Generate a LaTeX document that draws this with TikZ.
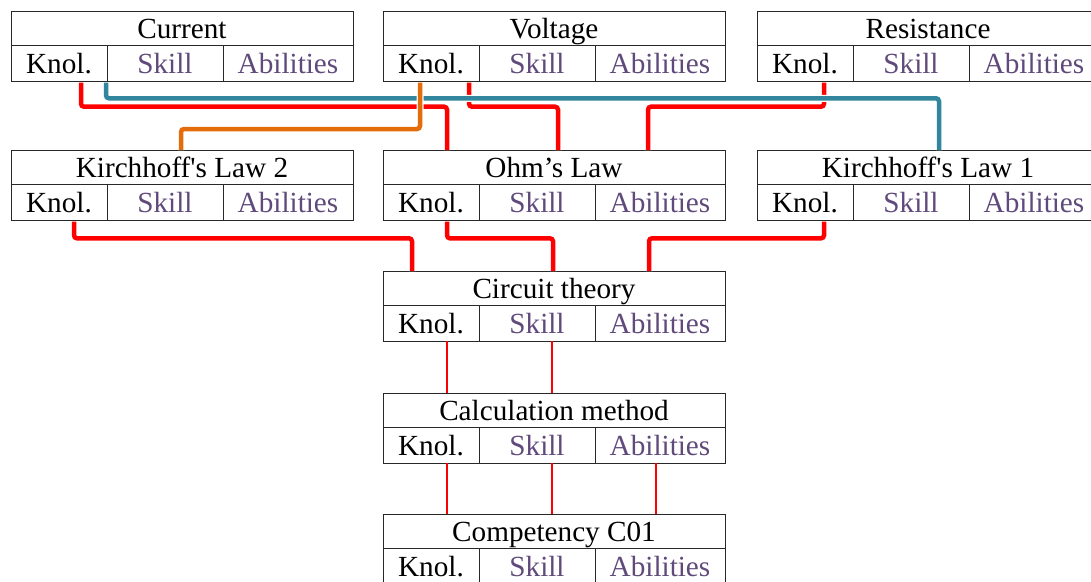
\documentclass[tikz,border=0pt]{standalone}
\usepackage{fontspec}
\setmainfont{Liberation Serif}[Ligatures=TeXOff]
\usetikzlibrary{calc}
\definecolor{purp}{RGB}{96,74,123}
\definecolor{tealw}{RGB}{49,133,156}
\definecolor{orangew}{RGB}{228,108,10}
\definecolor{boxline}{RGB}{40,40,40}
\newcommand{\compbox}[4]{%
  \node[titlecell, anchor=north west] (#1-t) at (#2,#3) {#4};
  \node[cellbox, minimum width=96, anchor=north west] (#1-k) at (#1-t.south west) {Knol.};
  \node[cellbox, minimum width=116, anchor=north west, text=purp] (#1-s) at (#1-k.north east) {Skill};
  \node[cellbox, minimum width=130, anchor=north west, text=purp] (#1-a) at (#1-s.north east) {Abilities};
}
\begin{document}
\begin{tikzpicture}[x=1pt,y=-1pt,
  basecell/.style={draw=boxline, line width=1, rectangle, inner sep=0, outer sep=0,
    font=\fontsize{29.2}{31}\selectfont, text height=20.5, text depth=0.5},
  titlecell/.style={basecell, minimum width=342, minimum height=34},
  cellbox/.style={basecell, minimum height=36},
  wire/.style={line width=4.5, rounded corners=3, preaction={draw=white, line width=7}},
  redwire/.style={wire, draw=red},
  tealwire/.style={wire, draw=tealw},
  orangewire/.style={wire, draw=orangew},
  thinwire/.style={draw=red, line width=2}]
\useasboundingbox (0,0) rectangle (1091,581);
\fill[white] (0,0) rectangle (1091,581);

\compbox{cur}{11}{11}{Current}
\compbox{vol}{383}{11}{Voltage}
\compbox{res}{757}{11}{Resistance}
\compbox{kltwo}{11}{150}{Kirchhoff's Law 2}
\compbox{ohm}{383}{150}{Ohm’s Law}
\compbox{klone}{757}{150}{Kirchhoff's Law 1}
\compbox{cir}{383}{271}{Circuit theory}
\compbox{cal}{383}{393}{Calculation method}
\compbox{com}{383}{514}{Competency C01}

% top level connectors
\draw[redwire] ([xshift=70,yshift=-1.5]cur-k.south west) -- ++(0,24.2) -| ([xshift=64]ohm-t.north west);
\draw[redwire] ([xshift=86,yshift=-1.5]vol-k.south west) -- ++(0,24.2) -| ([xshift=175]ohm-t.north west);
\draw[redwire] ([xshift=67,yshift=-1.5]res-k.south west) -- ++(0,24.2) -| ([xshift=265]ohm-t.north west);
\draw[tealwire] ([xshift=95,yshift=-1.5]cur-k.south west) -- ++(0,15.8) -| ([xshift=182]klone-t.north west);
\draw[orangewire] ([xshift=37,yshift=-1.5]vol-k.south west) -- ++(0,46.5) -| ([xshift=170]kltwo-t.north west);

% second level connectors
\draw[redwire] ([xshift=63,yshift=-1.5]kltwo-k.south west) -- ++(0,16.8) -| ([xshift=29]cir-t.north west);
\draw[redwire] ([xshift=64,yshift=-1.5]ohm-k.south west) -- ++(0,16.8) -| ([xshift=170]cir-t.north west);
\draw[redwire] ([xshift=67,yshift=-1.5]klone-k.south west) -- ++(0,16.8) -| ([xshift=266]cir-t.north west);

% thin connectors
\draw[thinwire] ([xshift=64]cir-k.south west) -- ([xshift=64]cal-t.north west);
\draw[thinwire] ([xshift=169]cir-k.south west) -- ([xshift=169]cal-t.north west);
\draw[thinwire] ([xshift=64]cal-k.south west) -- ([xshift=64]com-t.north west);
\draw[thinwire] ([xshift=169]cal-k.south west) -- ([xshift=169]com-t.north west);
\draw[thinwire] ([xshift=273]cal-k.south west) -- ([xshift=273]com-t.north west);
\end{tikzpicture}
\end{document}
